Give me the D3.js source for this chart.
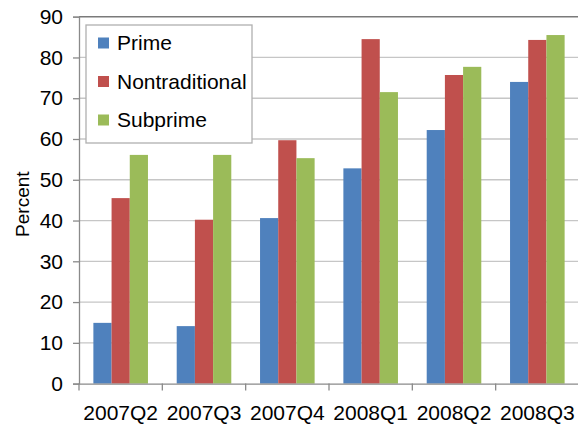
<!DOCTYPE html>
<html>
<head>
<meta charset="utf-8">
<script src="https://cdn.jsdelivr.net/npm/d3@7"></script>
<style>
  body { margin: 0; background: #fff; }
  text { font-family: "Liberation Sans", Arial, sans-serif; fill: #000; }
</style>
</head>
<body>
<div class="chart"></div>
<script>
const quarters = ['2007Q2', '2007Q3', '2007Q4', '2008Q1', '2008Q2', '2008Q3'];
const seriesNames = ['Prime', 'Nontraditional', 'Subprime'];
const prime = [14.9, 14.1, 40.6, 52.8, 62.2, 74.0];
const nontraditional = [45.5, 40.2, 59.7, 84.5, 75.7, 84.3];
const subprime = [56.1, 56.1, 55.3, 71.5, 77.7, 85.5];
const yTicks = [0, 10, 20, 30, 40, 50, 60, 70, 80, 90];
const colors = ['#4F81BD', '#C0504D', '#9BBB59'];

const width = 578, height = 425;
const plotLeft = 79, plotRight = 579, plotTop = 16.7, plotBottom = 383.6;

let rows = quarters.map((q, i) => ({
    q: q,
    vals: [prime[i], nontraditional[i], subprime[i]]
}));

let svg = d3.select('.chart')
    .append('svg')
    .attr('width', width)
    .attr('height', height);

let x_scale = d3.scaleBand()
    .domain(quarters)
    .range([plotLeft, plotRight]);
let inner = d3.scaleBand()
    .domain([0, 1, 2])
    .range([0, x_scale.bandwidth()])
    .paddingInner(0)
    .paddingOuter(0.79);
let y_scale = d3.scaleLinear()
    .domain([0, 90])
    .range([plotBottom, plotTop]);

// gridlines
svg.append('g')
    .selectAll('line')
    .data(yTicks.slice(1, -1))
    .join('line')
    .attr('x1', plotLeft).attr('x2', plotRight)
    .attr('y1', d => y_scale(d)).attr('y2', d => y_scale(d))
    .attr('stroke', '#c6c6c6')
    .attr('stroke-width', 1.3);
svg.append('line')
    .attr('x1', plotLeft).attr('x2', plotRight)
    .attr('y1', y_scale(90)).attr('y2', y_scale(90))
    .attr('stroke', '#7a7a7a')
    .attr('stroke-width', 1.5);

// bars
svg.append('g')
    .selectAll('g')
    .data(rows)
    .join('g')
    .attr('transform', d => `translate(${x_scale(d.q)},0)`)
    .selectAll('rect')
    .data(d => d.vals)
    .join('rect')
    .attr('x', (d, i) => inner(i))
    .attr('y', d => y_scale(d))
    .attr('width', inner.bandwidth())
    .attr('height', d => y_scale(0) - y_scale(d))
    .attr('fill', (d, i) => colors[i]);

// axes
let y_Axis = d3.axisLeft(y_scale)
    .tickValues(yTicks)
    .tickSize(6)
    .tickPadding(10);
let gy = svg.append('g')
    .attr('transform', `translate(${plotLeft},0)`)
    .call(y_Axis);
gy.select('.domain').attr('stroke', '#8a8a8a').attr('stroke-width', 1.3);
gy.selectAll('.tick line').attr('stroke', '#8a8a8a').attr('stroke-width', 1.3);
gy.selectAll('text').style('font-size', '21px').attr('font-family', null);

let x_Axis = d3.axisBottom(x_scale)
    .tickSize(0)
    .tickPadding(21);
let gx = svg.append('g')
    .attr('transform', `translate(0,${plotBottom})`)
    .call(x_Axis);
gx.select('.domain').attr('stroke', '#8a8a8a').attr('stroke-width', 1.3);
gx.selectAll('text').style('font-size', '21px').attr('font-family', null);
// category separator ticks
gx.selectAll('.sep')
    .data(quarters)
    .join('line')
    .attr('x1', d => x_scale(d)).attr('x2', d => x_scale(d))
    .attr('y1', 0).attr('y2', 7)
    .attr('stroke', '#8a8a8a')
    .attr('stroke-width', 1.3);

svg.append('text')
    .attr('transform', `translate(29,${(plotTop + plotBottom) / 2 + 4}) rotate(-90)`)
    .attr('text-anchor', 'middle')
    .style('font-size', '19px')
    .text('Percent');

// legend
let legend = svg.append('g');
legend.append('rect')
    .attr('x', 86).attr('y', 25)
    .attr('width', 166).attr('height', 118)
    .attr('fill', '#fff')
    .attr('stroke', '#b0b0b0')
    .attr('stroke-width', 1.3);
let items = legend.selectAll('.item')
    .data(seriesNames)
    .join('g')
    .attr('transform', (d, i) => `translate(98,${43 + i * 38.5})`);
items.append('rect')
    .attr('x', 0).attr('y', -5.5)
    .attr('width', 11).attr('height', 11)
    .attr('fill', (d, i) => colors[i]);
items.append('text')
    .attr('x', 19).attr('dy', '0.35em')
    .style('font-size', '21px')
    .text(d => d);
</script>
</body>
</html>
